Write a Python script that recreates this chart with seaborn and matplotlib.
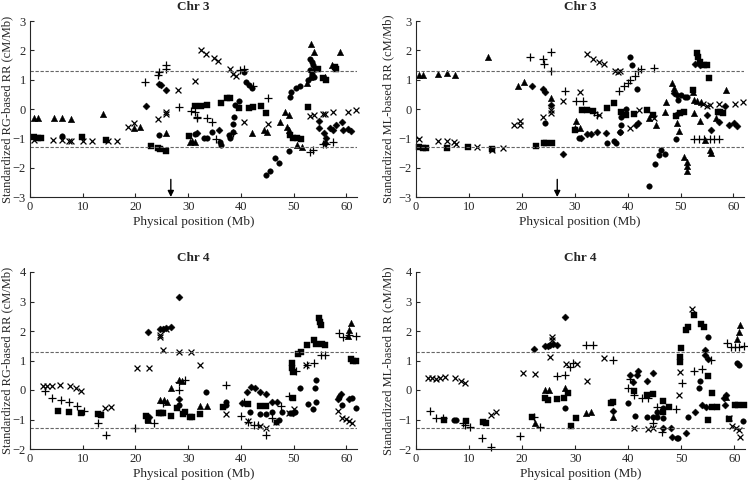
import matplotlib
matplotlib.use("Agg")
import matplotlib.pyplot as plt
import pandas as pd
import seaborn as sns

# ---- data: (physical position Mb, standardized RR) ----
# panel 1: Chr 3, RG-based
p1_tri = [(0.8, -0.32), (1.45, -0.32), (4.5, -0.29), (6.0, -0.29), (7.7, -0.34), (13.8, -0.18),
          (19.7, -0.66), (20.8, -0.6), (25.7, -0.83), (30.4, -1.11), (31.3, -1.13), (30.7, -1.09),
          (42.1, -0.83), (44.3, -0.71), (44.9, -0.77), (48.4, -0.09), (49.2, -0.2), (47.4, -0.43),
          (48.8, -0.6), (49.1, -0.71), (50.6, -1.22), (51.5, -1.28), (53.3, 2.2), (53.8, 1.95),
          (58.7, 1.93), (57.2, 1.5), (55.9, 1.08), (52.5, 0.9), (53.0, 1.1)]
p1_sq = [(0.7, -0.95), (1.6, -0.98), (2.1, -0.98), (9.9, -0.94), (14.5, -1.07), (23.0, -1.25),
         (24.3, -1.34), (24.6, -1.38), (25.7, -1.43), (30.2, -0.91), (31.3, 0.11), (32.5, 0.11),
         (33.6, 0.14), (36.3, 0.19), (37.4, 0.36), (37.9, 0.36), (39.7, 0.02), (41.6, 0.02),
         (42.3, 0.06), (43.8, 0.1), (44.8, -0.15), (49.3, -0.88), (49.9, -1.0), (50.6, -1.0),
         (51.3, -1.02), (52.8, 0.08), (54.7, 1.38), (55.6, 1.04), (56.1, 0.99), (57.8, 1.44),
         (58.1, 1.38)]
p1_circ = [(6.0, -0.91), (24.5, -0.88), (31.3, -0.86), (32.9, -0.98), (33.6, -0.98), (34.5, -0.77),
           (36.3, -1.22), (36.1, -1.13), (37.7, -0.88), (38.0, -1.0), (38.4, -0.79), (38.6, -0.26),
           (38.5, -0.52), (38.8, 0.14), (39.7, 0.28), (40.5, 1.25), (40.9, 0.93), (41.6, 0.82),
           (42.1, 0.73), (44.8, -2.24), (45.5, -2.13), (46.5, -1.66), (47.3, -1.83), (49.2, -1.43),
           (49.3, 0.42), (49.5, 0.59), (50.4, 0.7), (51.2, 0.79), (53.0, 1.72), (53.4, 1.61),
           (53.7, 1.5), (54.0, 1.38), (53.1, 1.33), (53.4, 1.21), (53.8, 1.1), (52.8, 0.99)]
p1_dia = [(22.0, 0.11), (24.4, 0.85), (24.8, 0.83), (25.7, 0.66), (31.7, -0.83), (35.9, -0.71),
          (54.8, -0.41), (54.8, -0.66), (55.7, -0.83), (56.1, -1.0), (55.9, -1.15), (56.9, -0.66),
          (57.4, -0.71), (58.1, -0.54), (59.1, -0.45), (59.4, -0.71), (60.3, -0.69), (60.9, -0.75)]
p1_x = [(0.8, -1.05), (4.4, -1.07), (6.0, -1.07), (7.3, -1.1), (7.7, -1.1), (10.1, -1.08),
        (11.7, -1.08), (14.7, -1.08), (16.5, -1.08), (18.6, -0.6), (19.7, -0.49), (24.3, -0.35),
        (25.8, -0.09), (25.8, -0.17), (28.0, 0.66), (31.2, 0.95), (32.5, 2.0), (33.4, 1.86),
        (34.8, 1.75), (35.6, 1.63), (37.9, 1.35), (38.5, 1.21), (39.0, 1.12), (40.6, -0.45),
        (45.2, -0.51), (53.1, -0.24), (53.8, -0.2), (55.5, -0.17), (55.9, -0.17), (57.5, -0.11),
        (60.3, -0.09), (61.9, -0.02)]
p1_plus = [(21.8, 0.93), (24.3, 1.15), (24.5, 1.27), (25.8, 1.5), (25.7, 1.38), (28.3, 0.08),
           (30.6, -0.06), (31.3, -0.09), (31.6, -0.26), (31.7, -0.29), (33.6, -0.32), (34.6, -0.43),
           (35.3, -1.03), (38.5, -0.83), (39.9, 1.33), (40.6, 1.35), (42.3, 0.78), (45.1, 0.39),
           (53.0, -1.45), (53.7, -1.39), (55.6, -1.2), (56.1, -1.2), (57.4, -1.13)]

# panel 2: Chr 3, ML-based
p2_tri = [(0.6, 1.16), (1.3, 1.16), (4.2, 1.21), (5.9, 1.24), (7.4, 1.16), (13.6, 1.78),
          (19.2, 0.79), (20.5, 0.93), (25.6, 0.36), (30.3, -0.41), (30.0, -0.66), (31.0, -0.66),
          (48.3, 0.9), (48.7, 0.73), (47.3, 0.23), (47.1, -0.09), (49.3, -0.49), (49.7, -0.75),
          (44.1, -0.32), (45.3, -0.54), (50.6, -1.62), (51.3, -1.79), (51.3, -1.93), (51.3, -2.11),
          (52.3, 0.59), (52.6, 0.31), (53.2, 0.27), (53.9, 0.23), (52.5, -0.12), (53.6, -0.41),
          (55.5, -1.39), (55.8, -1.51), (54.7, -1.07), (58.6, 0.65), (56.7, -0.32)]
p2_sq = [(0.6, -1.3), (1.3, -1.32), (1.8, -1.32), (5.9, -1.32), (9.8, -1.3), (14.4, -1.36),
         (22.7, -1.25), (24.2, -1.16), (24.5, -1.16), (25.7, -1.16), (30.0, -0.71), (31.4, -0.03),
         (32.4, -0.03), (33.5, -0.06), (36.1, 0.05), (37.4, 0.19), (38.8, -0.09), (39.7, -0.2),
         (41.3, -0.18), (43.7, -0.03), (44.8, -0.2), (49.1, -0.24), (49.9, -0.15), (50.7, -0.11),
         (52.3, 0.65), (53.1, 1.92), (53.3, 1.78), (53.6, 1.61), (54.5, 1.5), (55.0, 1.5),
         (55.3, 1.04), (57.0, -0.09), (57.5, -0.11), (58.0, -0.15)]
p2_circ = [(24.3, -0.49), (30.9, -0.98), (40.5, 1.76), (40.9, 1.5), (41.7, 0.68), (36.1, -1.17),
           (37.4, -1.08), (37.8, -1.17), (38.5, -0.77), (38.7, -0.54), (38.7, -0.26), (39.7, -0.01),
           (44.1, -2.61), (45.1, -1.87), (46.0, -1.57), (46.4, -1.4), (47.1, -1.54), (49.1, -1.02),
           (49.5, 0.31), (50.0, 0.48), (50.9, 0.42), (51.3, 0.42)]
p2_dia = [(22.0, 0.79), (24.1, 0.68), (24.4, 0.59), (25.6, 0.14), (27.8, -1.54), (31.2, -0.98),
          (32.4, -0.85), (33.0, -0.85), (34.3, -0.77), (35.9, -0.83), (38.6, -0.79), (41.6, -0.54),
          (42.0, -0.49), (48.8, 0.56), (49.3, 0.48), (49.1, -0.2), (52.7, 1.55), (53.7, 1.5),
          (55.0, -0.2), (55.7, -0.71), (58.4, 0.1), (59.2, -0.54), (60.2, -0.49), (60.7, -0.58),
          (57.2, -0.43)]
p2_x = [(0.6, -1.02), (4.2, -1.08), (5.9, -1.08), (7.1, -1.13), (7.6, -1.19), (11.5, -1.3),
        (14.4, -1.39), (16.4, -1.34), (18.5, -0.54), (19.7, -0.41), (19.7, -0.54), (24.1, -0.26),
        (25.6, -0.15), (25.6, -0.03), (27.8, 0.27), (31.0, 0.59), (32.4, 1.89), (33.4, 1.72),
        (34.6, 1.61), (35.5, 1.53), (37.6, 1.29), (38.1, 1.27), (38.6, 1.29), (34.6, -0.2),
        (40.5, -0.66), (42.2, -0.03), (44.9, -0.32), (54.2, 0.16), (55.1, 0.11), (55.6, 0.14),
        (57.3, 0.16), (60.3, 0.17), (61.8, 0.23)]
p2_plus = [(21.5, 1.78), (24.0, 1.7), (24.2, 1.54), (25.6, 1.93), (25.6, 1.29), (28.1, 0.61),
           (30.2, 0.27), (31.5, 0.27), (33.7, -0.09), (34.3, -0.19), (38.4, 0.62), (39.4, 0.79),
           (40.0, 0.9), (40.5, 0.99), (41.4, 1.12), (41.9, 1.29), (42.5, 1.35), (45.0, 1.41),
           (52.5, -1.03), (53.4, -1.03), (54.4, -1.03), (55.5, -1.03), (56.4, -1.03), (57.2, -1.03)]

# panel 3: Chr 4, RG-based
p3_tri = [(24.6, -0.34), (25.5, -0.34), (26.0, -0.42), (26.8, 0.08), (28.2, 0.34), (28.8, 0.32),
          (22.4, -1.02), (32.2, -0.53), (33.6, -0.53), (60.8, 2.27), (60.5, 2.04), (60.3, 1.84)]
p3_sq = [(5.4, -0.71), (7.3, -0.76), (9.6, -0.77), (12.8, -0.82), (13.4, -0.85), (21.9, -0.87),
         (22.4, -1.0), (24.5, -0.79), (24.9, -0.79), (25.3, -0.79), (26.8, -0.87), (27.9, -0.6),
         (29.0, -0.83), (29.4, -0.74), (30.4, -0.91), (30.8, -0.91), (32.2, -0.83), (36.6, -0.59),
         (41.3, -0.49), (43.6, -0.54), (44.8, -0.53), (49.9, -0.28), (49.6, 0.91), (49.6, 0.74),
         (49.9, 0.62), (50.9, 1.21), (51.3, 1.3), (52.5, 1.53), (53.9, 1.7), (54.2, 1.55),
         (55.3, 1.55), (55.9, 1.53), (54.8, 2.44), (54.9, 2.3), (55.1, 2.19), (60.9, 1.05),
         (61.3, 1.0), (61.9, 1.0)]
p3_circ = [(28.2, -0.51), (33.3, -0.06), (37.2, -0.4), (37.2, -0.51), (41.8, -0.76), (43.6, -0.83),
           (44.8, -0.83), (45.8, -0.74), (46.7, -1.08), (47.3, -1.02), (47.7, -0.74), (49.3, -0.79),
           (50.3, -0.74), (51.1, 0.06), (52.8, -0.49), (53.7, -0.65), (54.0, 0.06), (54.2, 0.34),
           (54.2, -0.42), (58.6, -0.25), (59.1, -0.51), (61.0, -0.26), (61.9, -0.6)]
p3_dia = [(22.4, 1.98), (24.6, 2.06), (25.3, 2.07), (25.8, 2.1), (26.8, 2.12), (28.2, 3.14),
          (28.2, -0.32), (22.5, -0.91), (40.2, -0.45), (41.1, -0.06), (41.9, 0.09), (42.7, 0.08),
          (43.6, -0.08), (44.8, -0.15), (45.8, -0.42), (46.8, -0.42), (49.8, -0.79), (58.4, -0.31),
          (58.9, -0.15), (60.5, -0.31)]
p3_x = [(2.5, 0.15), (3.3, 0.15), (4.2, 0.14), (5.7, 0.17), (7.5, 0.15), (8.8, 0.06), (9.6, -0.03),
        (14.3, -0.62), (15.3, -0.57), (20.3, 0.74), (22.5, 0.74), (24.6, 1.87), (24.6, 1.78),
        (25.3, 1.36), (25.8, 2.07), (28.2, 1.3), (30.5, 1.3), (32.3, 0.85), (37.2, -0.83),
        (41.3, -1.05), (43.6, -1.22), (44.8, -1.28), (46.7, -1.08), (49.2, -0.79), (50.0, -0.65),
        (52.3, 0.85), (58.4, -0.7), (59.1, -0.94), (59.9, -0.99), (60.5, -1.05), (61.1, -1.13)]
p3_plus = [(2.8, -0.03), (4.2, -0.28), (5.8, -0.34), (7.3, -0.42), (9.0, -0.53), (10.3, -0.7),
           (12.8, -1.11), (14.5, -1.51), (19.9, -1.28), (23.6, -1.11), (25.3, -0.45), (28.2, 0.0),
           (28.3, 0.28), (29.3, 0.34), (37.2, 0.17), (40.1, -0.87), (41.3, -1.08), (42.5, -1.17),
           (43.3, -1.19), (44.8, -1.53), (45.8, -0.94), (47.6, -0.53), (49.2, -0.2), (50.5, 0.66),
           (52.6, 0.85), (53.8, 0.91), (55.2, 1.17), (55.9, 1.19), (58.6, 1.93), (59.4, 1.81),
           (60.5, 1.85), (61.9, 1.84), (40.5, -0.4)]

# panel 4: Chr 4, ML-based
p4_tri = [(24.3, 0.0), (25.0, 0.0), (28.1, 0.06), (22.4, -1.13), (32.1, -0.77), (33.0, -0.74),
          (37.2, -0.91), (61.0, 2.21), (60.8, 1.98), (60.5, 1.73), (58.5, -0.23)]
p4_sq = [(5.2, -1.02), (9.5, -1.04), (12.6, -1.08), (13.2, -1.11), (21.9, -0.91), (24.3, -0.28),
         (24.8, -0.34), (26.5, -0.32), (27.8, -0.26), (28.7, -0.09), (29.3, -1.21), (30.2, -0.96),
         (36.7, -0.43), (37.2, -0.4), (41.1, -0.02), (43.5, -0.17), (44.6, -0.15), (46.5, -0.36),
         (46.5, -0.74), (47.7, -0.57), (50.0, 1.44), (49.8, 1.13), (49.7, 0.96), (50.9, 2.02),
         (51.2, 2.15), (52.4, 2.55), (53.7, 2.24), (54.2, 2.13), (55.1, 0.48), (55.7, -0.11),
         (55.0, -1.02), (56.7, -0.57), (55.7, -0.57), (60.1, -0.51), (60.6, -0.51), (61.9, -0.51),
         (58.9, -0.99)]
p4_circ = [(7.1, -1.02), (7.6, -1.02), (28.1, -0.62), (39.9, -0.45), (41.3, -0.87), (43.5, -0.91),
           (44.6, -0.91), (45.5, -0.74), (45.5, -0.91), (46.5, -0.62), (46.6, -0.96), (49.1, -1.62),
           (49.4, -1.62), (51.2, -0.91), (53.6, 0.32), (55.0, 1.81), (53.4, 0.06), (61.6, -1.05),
           (60.9, 0.85), (60.5, 0.91)]
p4_dia = [(22.3, 1.39), (24.3, 1.5), (24.8, 1.5), (25.2, 1.53), (25.9, 1.56), (26.5, 1.52),
          (28.1, 2.49), (37.2, -0.7), (40.3, 0.51), (40.9, 0.28), (41.6, 0.51), (41.9, 0.65),
          (43.6, 0.31), (44.6, 0.57), (48.2, -1.59), (50.9, -1.47), (52.5, -0.76), (53.9, -0.51),
          (54.7, -0.57), (54.4, 1.36), (54.5, 1.17), (55.0, 1.05), (58.0, -0.28), (58.5, -0.17),
          (58.2, -0.51), (46.5, -1.28), (48.0, -1.3)]
p4_x = [(2.2, 0.4), (3.0, 0.4), (3.8, 0.37), (4.6, 0.4), (5.4, 0.43), (7.3, 0.42), (8.5, 0.31),
        (9.3, 0.23), (14.2, -0.85), (15.1, -0.74), (20.2, 0.57), (22.4, 0.54), (25.2, 1.13),
        (25.7, 1.81), (25.7, 1.7), (28.2, 0.87), (30.4, 0.87), (32.2, 0.31), (35.4, 1.07),
        (41.1, -1.3), (43.7, -1.33), (44.6, -1.28), (49.8, 0.62), (49.5, -0.17), (52.1, 2.74),
        (58.9, -0.94), (59.5, -1.21), (60.3, -1.3), (60.9, -1.36), (61.1, -1.59)]
p4_plus = [(2.6, -0.7), (3.8, -0.94), (5.0, -0.96), (8.8, -1.13), (9.3, -1.19), (10.1, -1.27),
           (12.4, -1.64), (14.2, -1.93), (19.6, -1.55), (22.3, -0.91), (23.3, -1.25), (26.5, 0.48),
           (28.1, 0.51), (29.0, 0.79), (29.5, 0.93), (32.1, 1.53), (33.4, 1.51), (37.2, 1.02),
           (40.3, 0.36), (39.9, 0.06), (41.1, -0.17), (42.5, -0.26), (43.8, -0.26), (45.5, -0.59),
           (46.4, -1.42), (44.7, -1.13), (49.0, -0.65), (50.1, 0.23), (52.4, 0.65), (53.9, 0.71),
           (55.6, 1.02), (58.6, 1.58), (59.3, 1.47), (60.1, 1.47), (60.8, 1.47), (61.8, 1.5)]

titles = ["Chr 3", "Chr 3", "Chr 4", "Chr 4"]
ylabels = ["Standardized RG-based RR (cM/Mb)", "Standardized ML-based RR (cM/Mb)",
           "Standardized RG-based RR (cM/Mb)", "Standardized ML-based RR (cM/Mb)"]
threshold = 1.28
arrow_pos = 26.7

sns.set_theme(style="ticks")
plt.rcParams["font.family"] = ["Liberation Serif", "DejaVu Serif"]

# marker, size, edge width
styles = {"tri": ("^", 22, 0), "sq": ("s", 16, 0), "circ": ("o", 16, 0),
          "dia": ("D", 13, 0), "x": ("x", 18, 0.9), "plus": ("+", 26, 0.9)}
panels = [
    {"tri": p1_tri, "sq": p1_sq, "circ": p1_circ, "dia": p1_dia, "x": p1_x, "plus": p1_plus},
    {"tri": p2_tri, "sq": p2_sq, "circ": p2_circ, "dia": p2_dia, "x": p2_x, "plus": p2_plus},
    {"tri": p3_tri, "sq": p3_sq, "circ": p3_circ, "dia": p3_dia, "x": p3_x, "plus": p3_plus},
    {"tri": p4_tri, "sq": p4_sq, "circ": p4_circ, "dia": p4_dia, "x": p4_x, "plus": p4_plus},
]

W, H = 748, 480
fig = plt.figure(figsize=(W / 100, H / 100), dpi=100)
boxes = [(30, 21, 357, 197), (416, 21, 744, 197), (30, 272, 357, 449), (416, 272, 745, 449)]
label_right_px = [13, 394, 13, 394]

for i, (box, data) in enumerate(zip(boxes, panels)):
    l, t, r, b = box
    ax = fig.add_axes([l / W, 1 - b / H, (r - l) / W, (b - t) / H])
    for key, pts in data.items():
        df = pd.DataFrame(pts, columns=["pos", "rr"])
        m, s, lw = styles[key]
        if lw == 0:
            sns.scatterplot(data=df, x="pos", y="rr", marker=m, s=s, color="black",
                            edgecolor="black", linewidth=0.3, ax=ax, clip_on=False)
        else:
            sns.scatterplot(data=df, x="pos", y="rr", marker=m, s=s, color="black",
                            linewidth=lw, ax=ax, clip_on=False)
    ax.axhline(threshold, color="#666666", ls=(0, (3, 1.5)), lw=0.8)
    ax.axhline(-threshold, color="#666666", ls=(0, (3, 1.5)), lw=0.8)
    ax.set_xlim(0, 62)
    if i < 2:
        ax.set_ylim(-3, 3)
        ax.set_yticks(range(-3, 4))
        ax.annotate("", xy=(arrow_pos, -3), xytext=(arrow_pos, -2.4),
                    arrowprops=dict(arrowstyle="-|>", color="black", lw=1.0,
                                    mutation_scale=9, shrinkA=0, shrinkB=0))
    else:
        ax.set_ylim(-2, 4)
        ax.set_yticks(range(-2, 5))
    ax.set_xticks(range(0, 61, 10))
    sns.despine(ax=ax)
    for sp in ax.spines.values():
        sp.set_linewidth(0.8)
    ax.tick_params(direction="in", length=3, width=0.8, labelsize=9, pad=3)
    ax.set_title(titles[i], fontsize=9.5, fontweight="bold", pad=8)
    ax.set_xlabel("Physical position (Mb)", fontsize=9.5, labelpad=2)
    ax.set_ylabel(ylabels[i], fontsize=9)
    ax.yaxis.set_label_coords((label_right_px[i] - l) / (r - l), 0.5)

fig.savefig("out.png", dpi=100)
